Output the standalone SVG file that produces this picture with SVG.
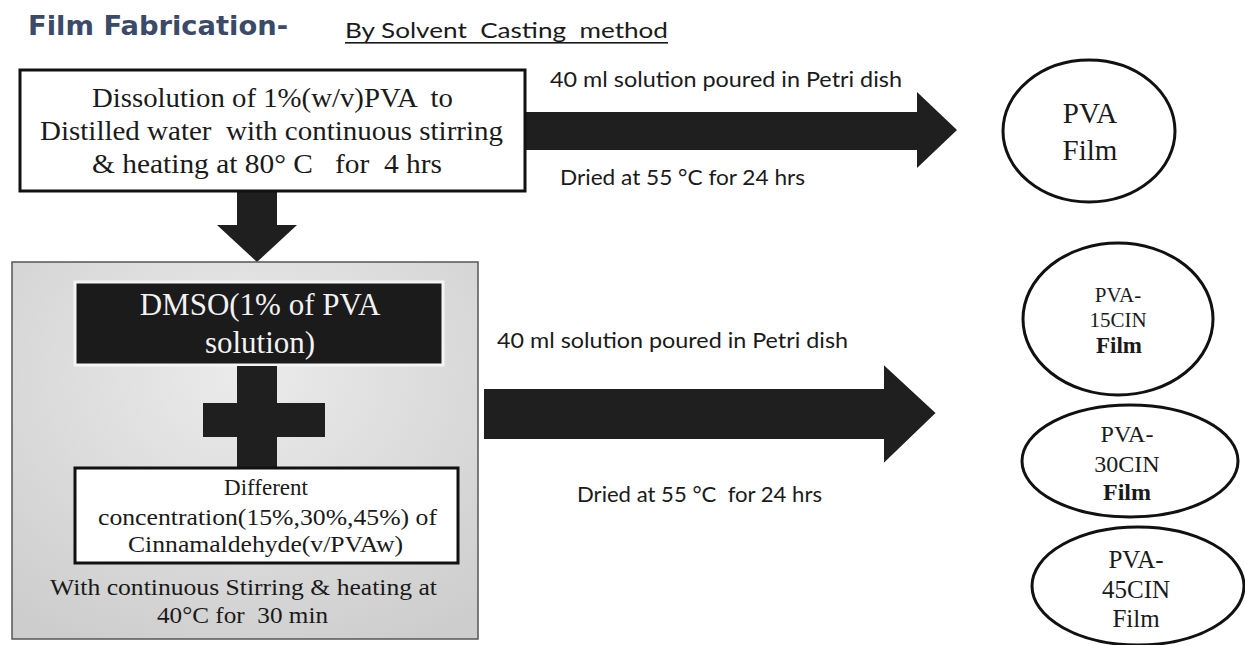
<svg xmlns="http://www.w3.org/2000/svg" width="1245" height="645" viewBox="0 0 1245 645">
<defs>
<style>
.serif{font-family:"Liberation Serif","Times New Roman",serif;fill:#1a1a1a}
.cal{font-family:Lato,"Liberation Sans",sans-serif;fill:#1a1a1a;font-size:21px}
.arrow{fill:#1f1f1f}
.box{fill:#fff;stroke:#111;stroke-width:3}
.ell{fill:none;stroke:#111;stroke-width:3}
</style>
<radialGradient id="gray" cx="0.5" cy="0.3" r="0.8">
<stop offset="0" stop-color="#ebebeb"/>
<stop offset="1" stop-color="#cdcdcd"/>
</radialGradient>
</defs>
<rect width="1245" height="645" fill="#fff"/>
<g id="title">
<text x="28" y="35" font-family="DejaVu Sans,sans-serif" font-weight="bold" font-size="27" fill="#3a4a68" textLength="260" lengthAdjust="spacingAndGlyphs">Film Fabrication-</text>
<text x="345" y="38" font-family="Lato,'Liberation Sans',sans-serif" font-size="21" fill="#1a1a1a" textLength="323" lengthAdjust="spacingAndGlyphs" xml:space="preserve">By Solvent  Casting  method</text>
<rect x="345" y="42" width="323" height="1.6" fill="#1a1a1a"/>
</g>
<g id="connectors">
<polygon class="arrow" points="523,112 917,112 917,92 957,130 917,168 917,150 523,150"/>
<polygon class="arrow" points="237,189 277,189 277,225 297,225 257,262 217,225 237,225"/>
<polygon class="arrow" points="483,388 883,388 883,363 937,413 883,465 883,440 483,440" stroke="#fff" stroke-width="2"/>
<text class="cal" x="550" y="87" textLength="352" lengthAdjust="spacingAndGlyphs">40 ml solution poured in Petri dish</text>
<text class="cal" x="560" y="185" textLength="245" lengthAdjust="spacingAndGlyphs">Dried at 55 °C for 24 hrs</text>
<text class="cal" x="497" y="348" textLength="351" lengthAdjust="spacingAndGlyphs">40 ml solution poured in Petri dish</text>
<text class="cal" x="577" y="502" textLength="245" lengthAdjust="spacingAndGlyphs" xml:space="preserve">Dried at 55 °C  for 24 hrs</text>
</g>
<g id="dissolution">
<rect class="box" x="20" y="70" width="505" height="121"/>
<text class="serif" font-size="27" x="92" y="107" textLength="361" lengthAdjust="spacingAndGlyphs" xml:space="preserve">Dissolution of 1%(w/v)PVA  to</text>
<text class="serif" font-size="27" x="40" y="140" textLength="463" lengthAdjust="spacingAndGlyphs" xml:space="preserve">Distilled water  with continuous stirring</text>
<text class="serif" font-size="27" x="92" y="173" textLength="350" lengthAdjust="spacingAndGlyphs" xml:space="preserve">&amp; heating at 80° C   for  4 hrs</text>
</g>
<g id="mixing">
<rect x="12" y="262" width="466" height="377" fill="url(#gray)" stroke="#555" stroke-width="1.5"/>
<rect x="75" y="282" width="368" height="83" fill="#1b1b1b" stroke="#f4f4f4" stroke-width="3"/>
<text class="serif" font-size="31" x="260" y="315" text-anchor="middle" style="fill:#f2f2f2">DMSO(1% of PVA</text>
<text class="serif" font-size="31" x="260" y="353" text-anchor="middle" style="fill:#f2f2f2">solution)</text>
<rect class="arrow" x="237" y="366" width="40" height="102"/>
<rect class="arrow" x="203" y="403" width="122" height="34"/>
<rect class="box" x="75" y="468" width="383" height="95"/>
<text class="serif" font-size="23" x="266" y="495" text-anchor="middle">Different</text>
<text class="serif" font-size="23" x="98" y="525" textLength="339" lengthAdjust="spacingAndGlyphs">concentration(15%,30%,45%) of</text>
<text class="serif" font-size="23" x="128" y="552" textLength="275" lengthAdjust="spacingAndGlyphs">Cinnamaldehyde(v/PVAw)</text>
<text class="serif" font-size="23" x="50" y="595" textLength="387" lengthAdjust="spacingAndGlyphs">With continuous Stirring &amp; heating at</text>
<text class="serif" font-size="23" x="157" y="623" textLength="171" lengthAdjust="spacingAndGlyphs" xml:space="preserve">40°C for  30 min</text>
</g>
<g id="pva-film">
<ellipse class="ell" cx="1089" cy="131" rx="86" ry="71"/>
<text class="serif" font-size="29" x="1090" y="123" text-anchor="middle">PVA</text>
<text class="serif" font-size="29" x="1090" y="160" text-anchor="middle">Film</text>
</g>
<g id="pva-15cin">
<ellipse class="ell" cx="1118" cy="319" rx="95" ry="76"/>
<text class="serif" font-size="21" x="1118" y="302" text-anchor="middle">PVA-</text>
<text class="serif" font-size="21" x="1118" y="327" text-anchor="middle">15CIN</text>
<text class="serif" font-size="23" font-weight="bold" x="1119" y="353" text-anchor="middle">Film</text>
</g>
<g id="pva-30cin">
<ellipse class="ell" cx="1130" cy="461" rx="108" ry="56"/>
<text class="serif" font-size="24" x="1127" y="442" text-anchor="middle">PVA-</text>
<text class="serif" font-size="24" x="1127" y="472" text-anchor="middle">30CIN</text>
<text class="serif" font-size="24" font-weight="bold" x="1127" y="500" text-anchor="middle">Film</text>
</g>
<g id="pva-45cin">
<ellipse class="ell" cx="1138" cy="586" rx="106" ry="59"/>
<text class="serif" font-size="25" x="1136" y="568" text-anchor="middle">PVA-</text>
<text class="serif" font-size="25" x="1136" y="598" text-anchor="middle">45CIN</text>
<text class="serif" font-size="25" x="1136" y="627" text-anchor="middle">Film</text>
</g>
</svg>
